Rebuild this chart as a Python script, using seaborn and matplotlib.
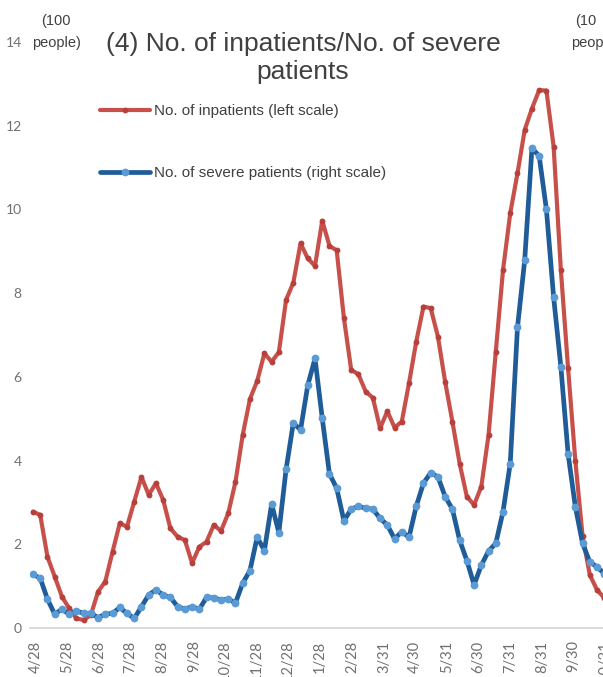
import numpy as np
import pandas as pd
import matplotlib
matplotlib.use("Agg")
import matplotlib.pyplot as plt
import matplotlib.dates as mdates
import matplotlib.transforms as mtransforms
import seaborn as sns

# ---------------- data ----------------
start_date = "2020-04-28"          # first weekly observation
inpatients = [2.78, 2.70, 1.70, 1.23, 0.75, 0.47, 0.23, 0.19, 0.31, 0.87,
              1.11, 1.82, 2.50, 2.42, 3.02, 3.61, 3.18, 3.46, 3.06, 2.38,
              2.18, 2.10, 1.55, 1.94, 2.06, 2.46, 2.32, 2.74, 3.49, 4.61,
              5.47, 5.90, 6.56, 6.36, 6.59, 7.84, 8.25, 9.19, 8.83, 8.65,
              9.73, 9.13, 9.02, 7.40, 6.17, 6.06, 5.65, 5.50, 4.77, 5.18,
              4.79, 4.93, 5.85, 6.84, 7.68, 7.64, 6.96, 5.88, 4.93, 3.93,
              3.14, 2.94, 3.38, 4.61, 6.60, 8.55, 9.91, 10.86, 11.90, 12.41,
              12.85, 12.84, 11.50, 8.55, 6.20, 4.00, 2.20, 1.27, 0.91, 0.72]
severe = [1.28, 1.19, 0.69, 0.33, 0.45, 0.33, 0.41, 0.35, 0.35, 0.25,
          0.33, 0.35, 0.49, 0.35, 0.23, 0.51, 0.79, 0.91, 0.79, 0.73,
          0.51, 0.45, 0.51, 0.45, 0.73, 0.72, 0.67, 0.69, 0.60, 1.07,
          1.37, 2.17, 1.85, 2.96, 2.28, 3.79, 4.90, 4.73, 5.80, 6.44,
          5.01, 3.68, 3.34, 2.56, 2.84, 2.91, 2.86, 2.84, 2.62, 2.46,
          2.13, 2.30, 2.17, 2.91, 3.46, 3.71, 3.61, 3.14, 2.84, 2.10,
          1.61, 1.03, 1.50, 1.84, 2.02, 2.78, 3.93, 7.18, 8.79, 11.46,
          11.28, 10.00, 7.90, 6.24, 4.16, 2.90, 2.02, 1.58, 1.46, 1.30]
tick_dates = ["2020-04-28", "2020-05-28", "2020-06-28", "2020-07-28", "2020-08-28",
              "2020-09-28", "2020-10-28", "2020-11-28", "2020-12-28", "2021-01-28",
              "2021-02-28", "2021-03-31", "2021-04-30", "2021-05-31", "2021-06-30",
              "2021-07-31", "2021-08-31", "2021-09-30", "2021-10-31"]
tick_labels = ["4/28", "5/28", "6/28", "7/28", "8/28", "9/28", "10/28", "11/28",
               "12/28", "1/28", "2/28", "3/31", "4/30", "5/31", "6/30", "7/31",
               "8/31", "9/30", "10/31"]
y_ticks = [0, 2, 4, 6, 8, 10, 12, 14]
label_inpatients = "No. of inpatients (left scale)"
label_severe = "No. of severe patients (right scale)"
title = "(4) No. of inpatients/No. of severe\npatients"

dates = pd.date_range(start_date, periods=len(inpatients), freq="7D")
df = pd.DataFrame({"date": dates, "inpatients": inpatients, "severe": severe})

# ---------------- style ----------------
sns.set_style("white")
plt.rcParams["font.family"] = ["Liberation Sans", "DejaVu Sans"]

W, H = 603, 677
fig = plt.figure(figsize=(W / 100, H / 100), dpi=100)

ax_left_px, ax_right_px = 30, 625
ax_bottom_px, ax_top_px = 628, 42
ax = fig.add_axes([ax_left_px / W, 1 - ax_bottom_px / H,
                   (ax_right_px - ax_left_px) / W, (ax_bottom_px - ax_top_px) / H])

red_line, red_mark = "#C8504B", "#B8403C"
blue_line, blue_mark = "#1F5C98", "#5B9BD5"

sns.lineplot(data=df, x="date", y="inpatients", ax=ax, color=red_line, lw=3.0,
             marker="o", markersize=4.2, markerfacecolor=red_mark,
             markeredgewidth=0, label=label_inpatients)

ax2 = ax.twinx()
sns.lineplot(data=df, x="date", y="severe", ax=ax2, color=blue_line, lw=3.4,
             marker="o", markersize=5.6, markerfacecolor=blue_mark,
             markeredgewidth=0, label=label_severe)

# x-axis scale: ~1.033 px per day, first point 3 px right of axis start
px_per_day = 1.033
x0 = mdates.date2num(pd.Timestamp(start_date)) - 3 / px_per_day
x1 = x0 + (ax_right_px - ax_left_px) / px_per_day
ax.set_xlim(x0, x1)

for a in (ax, ax2):
    a.set_ylim(0, 14)
    a.set_xlabel("")
    a.set_ylabel("")
    a.grid(False)
    for s in ("top", "left", "right"):
        a.spines[s].set_visible(False)
ax2.spines["bottom"].set_visible(False)
ax.spines["bottom"].set_color("#D9D9D9")
ax.spines["bottom"].set_linewidth(1.3)

ax.set_yticks(y_ticks)
ax.set_yticklabels([str(v) for v in y_ticks])
ax.tick_params(axis="y", length=0, pad=6, labelsize=10, labelcolor="#707070")
ax2.set_yticks([])

ax.set_xticks(mdates.date2num(pd.to_datetime(tick_dates)))
ax.set_xticklabels(tick_labels, rotation=90, ha="center", va="top")
ax.tick_params(axis="x", length=0, pad=9, labelsize=10.5, labelcolor="#707070")
offset = mtransforms.ScaledTranslation(3 / 100, 0, fig.dpi_scale_trans)
for lab in ax.get_xticklabels():
    lab.set_fontfamily("Lato")
    lab.set_transform(lab.get_transform() + offset)
for lab in ax.get_yticklabels():
    lab.set_fontfamily("Lato")

# legend
h1, l1 = ax.get_legend_handles_labels()
h2, l2 = ax2.get_legend_handles_labels()
for a in (ax, ax2):
    if a.get_legend() is not None:
        a.get_legend().remove()
fig.legend(h1 + h2, l1 + l2, loc="upper left",
           bbox_to_anchor=(100 / W, 1 - 104 / H), frameon=False,
           prop={"family": "Liberation Sans", "size": 11},
           labelcolor="#404040", handlelength=3.3, handletextpad=0.25,
           labelspacing=3.15, borderpad=0, borderaxespad=0)

# title & unit labels
fig.text(303 / W, 1 - 58 / H, title, ha="center", va="center",
         multialignment="center", fontsize=19, color="#404040",
         linespacing=1.2)
fig.text(56 / W, 1 - 32 / H, "(100\npeople)", ha="center", va="center",
         multialignment="center", fontsize=10.5, color="#404040",
         linespacing=1.65)
fig.text(575 / W, 1 - 21 / H, "(10", ha="left", va="center",
         fontsize=10.5, color="#404040")
fig.text(571 / W, 1 - 43 / H, "people)", ha="left", va="center",
         fontsize=10.5, color="#404040")

fig.savefig("out.png", dpi=100)
